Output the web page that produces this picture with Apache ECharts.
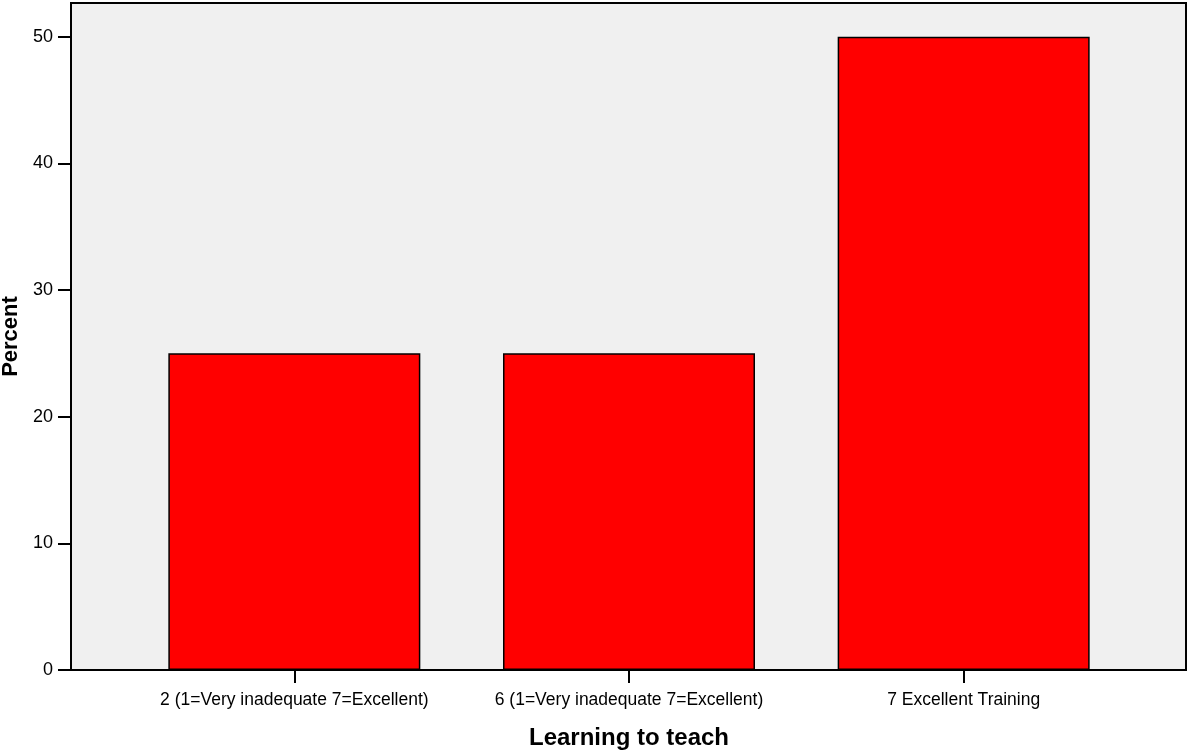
<!DOCTYPE html>
<html>
<head>
<meta charset="utf-8">
<script src="https://cdn.jsdelivr.net/npm/echarts@6/dist/echarts.min.js"></script>
<style>html,body{margin:0;padding:0;background:#fff;}#c{width:1188px;height:754px;}</style>
</head>
<body>
<div id="c"></div>
<script>
const categories = ['2 (1=Very inadequate 7=Excellent)', '6 (1=Very inadequate 7=Excellent)', '7 Excellent Training'];
const percentValues = [25, 25, 50];
const yTickLabels = [0, 10, 20, 30, 40, 50];
const yMax = 52.66;
const xTitle = 'Learning to teach';
const yTitle = 'Percent';

const FONT = "'Liberation Sans', Arial, sans-serif";
const chart = echarts.init(document.getElementById('c'), null, {renderer: 'canvas'});
chart.setOption({
  animation: false,
  backgroundColor: '#ffffff',
  grid: [
    {left: 71, right: 2, top: 3, bottom: 84, show: true, backgroundColor: '#f0f0f0', borderColor: '#000', borderWidth: 2, containLabel: false, outerBoundsMode: 'none'},
    {left: 127, right: 57, top: 3, bottom: 84, containLabel: false, outerBoundsMode: 'none'}
  ],
  xAxis: [
    {type: 'value', gridIndex: 0, min: 0, max: 1, show: false},
    {type: 'category', gridIndex: 1, data: categories,
     axisLine: {show: false},
     axisTick: {show: true, alignWithLabel: true, length: 13, lineStyle: {color: '#000', width: 2}},
     axisLabel: {color: '#000', fontFamily: FONT, fontSize: 17.5, margin: 21, interval: 0},
     name: xTitle, nameLocation: 'middle', nameGap: 56,
     nameTextStyle: {color: '#000', fontFamily: FONT, fontSize: 24, fontWeight: 'bold'}}
  ],
  yAxis: [
    {type: 'value', gridIndex: 0, min: 0, max: yMax,
     axisLine: {show: true, lineStyle: {color: '#000', width: 2}},
     axisTick: {show: true, length: 13, customValues: yTickLabels, lineStyle: {color: '#000', width: 2}},
     axisLabel: {color: '#000', fontFamily: FONT, fontSize: 18, margin: 18, customValues: yTickLabels},
     splitLine: {show: false},
     name: yTitle, nameLocation: 'middle', nameGap: 41, nameRotate: 90,
     nameTextStyle: {color: '#000', fontFamily: FONT, fontSize: 22, fontWeight: 'bold'}},
    {type: 'value', gridIndex: 1, min: 0, max: yMax, show: false}
  ],
  series: [{
    type: 'bar', xAxisIndex: 1, yAxisIndex: 1, data: percentValues, barWidth: 252,
    itemStyle: {color: '#ff0000', borderColor: '#000', borderWidth: 1.5}
  }]
});
</script>
</body>
</html>
